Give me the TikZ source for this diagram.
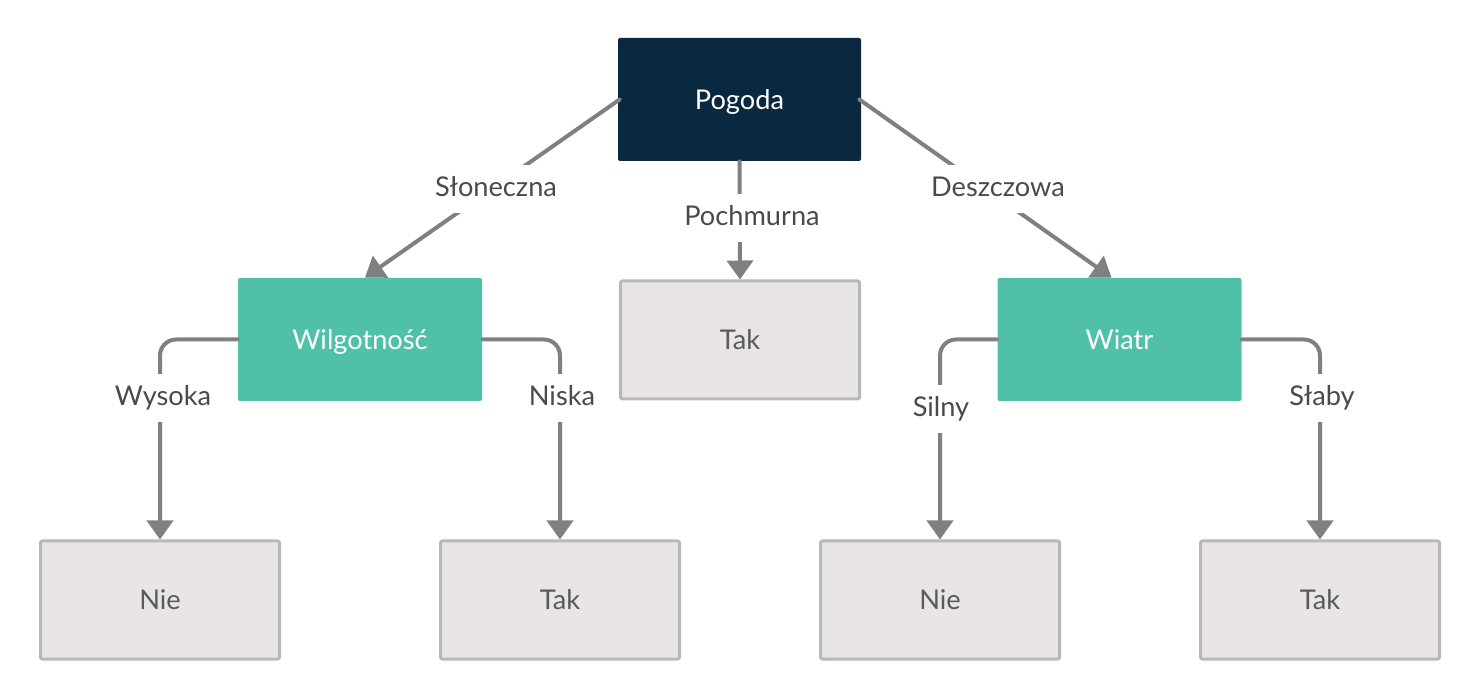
\documentclass[tikz,border=0pt]{standalone}
\usepackage{fontspec}
\setmainfont{Lato}
\usetikzlibrary{arrows.meta}

\definecolor{rootnavy}{HTML}{0A2840}
\definecolor{attrteal}{HTML}{51C0A9}
\definecolor{leaffill}{HTML}{E8E4E8}
\definecolor{leafedge}{HTML}{B9B7B9}
\definecolor{leaftext}{HTML}{5A5A5A}
\definecolor{lbltext}{HTML}{4A4A4A}
\definecolor{conngray}{HTML}{808080}

\tikzset{
  box/.style={inner sep=0pt, font=\fontsize{13.6}{16}\selectfont,
    text height=9.8pt, text depth=0pt},
  root/.style={box, fill=rootnavy, text=white, rounded corners=1pt,
    minimum width=121.5pt, minimum height=61.5pt},
  attr/.style={box, fill=attrteal, text=white, rounded corners=1pt,
    minimum width=122pt, minimum height=61.5pt},
  leaf/.style={box, fill=leaffill, draw=leafedge, line width=1.5pt, text=leaftext,
    rounded corners=1pt, minimum width=119.5pt, minimum height=59pt},
  conn/.style={draw=conngray, line width=2pt, line cap=round,
    -{Triangle[width=13pt,length=9.5pt]}},
  lbl/.style={fill=white, text=lbltext, font=\fontsize{13.6}{16}\selectfont,
    text height=9.8pt, text depth=2.6pt, inner xsep=3pt, inner ysep=5.8pt}
}

\begin{document}
\begin{tikzpicture}[x=0.5pt, y=-0.5pt]
\useasboundingbox (0,0) rectangle (1480,700);

% decision nodes
\node[root] (pogoda) at (739.5,99.5) {Pogoda};
\node[attr] (wilg) at (360,339.5) {Wilgotność};
\node[leaf] (tak1) at (740,340) {Tak};
\node[attr] (wiatr) at (1119.5,339.5) {Wiatr};

% leaves
\node[leaf] (nie1) at (160,600) {Nie};
\node[leaf] (tak2) at (560,600) {Tak};
\node[leaf] (nie2) at (940,600) {Nie};
\node[leaf] (tak3) at (1320,600) {Tak};

% connectors
\draw[conn] ([xshift=1pt]pogoda.west) -- ([xshift=2.5pt]wilg.north);
\draw[conn] (pogoda.south) -- (tak1.north);
\draw[conn] ([xshift=-1pt]pogoda.east) -- ([xshift=-4pt]wiatr.north);

\draw[conn, rounded corners=8pt] (wilg.west) -| (nie1.north);
\draw[conn, rounded corners=8pt] (wilg.east) -| (tak2.north);
\draw[conn, rounded corners=8pt] (wiatr.west) -| (nie2.north);
\draw[conn, rounded corners=8pt] (wiatr.east) -| (tak3.north);

% labels
\node[lbl] (lslon) at (496,189) {Słoneczna};
\node[lbl] (lpoch) at (752,218) {Pochmurna};
\node[lbl] (ldesz) at (998,189) {Deszczowa};
\node[lbl] (lwys) at (163,398) {Wysoka};
\node[lbl] (lnis) at (562,398) {Niska};
\node[lbl] (lsil) at (941,409) {Silny};
\node[lbl] (lsla) at (1322,398) {Słaby};

\end{tikzpicture}
\end{document}
